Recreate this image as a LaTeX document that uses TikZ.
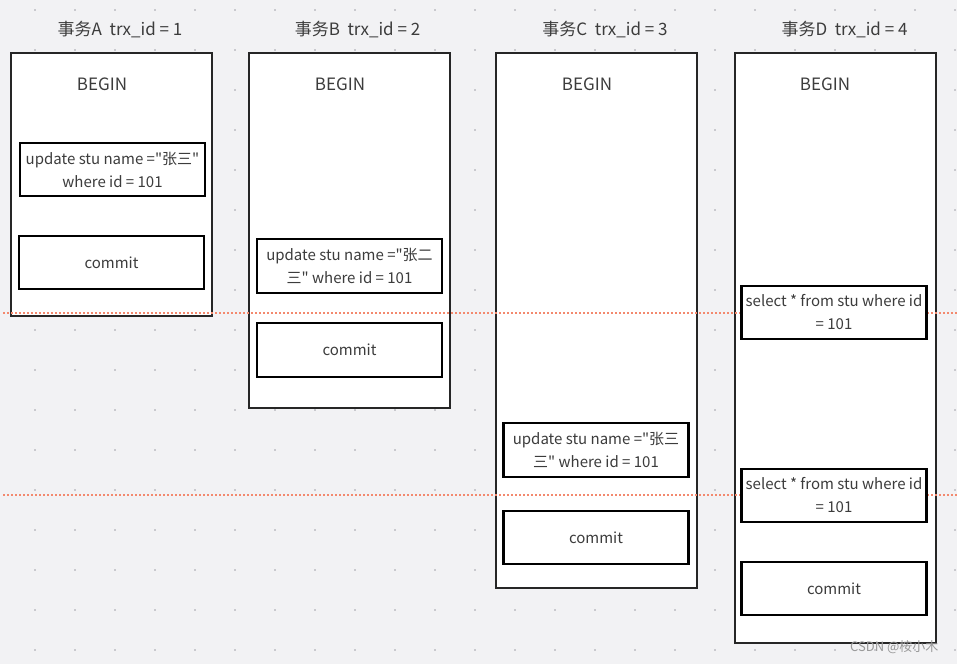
\documentclass[tikz,border=0pt]{standalone}
\usepackage{fontspec}
\setmainfont{Noto Sans CJK SC}[Ligatures=TeXOff]
\begin{document}
\begin{tikzpicture}[x=1pt,y=-1pt,
  outerbox/.style={draw=black!85, line width=1.4pt, fill=white, minimum width=201pt, inner sep=0pt},
  innerbox/.style={draw=black, line width=2.6pt, fill=white, minimum width=185pt, minimum height=53pt, inner sep=0pt, align=center, font=\fontsize{15}{23}\selectfont, text=textgray},
  title/.style={font=\fontsize{17}{20}\selectfont, text=textgray},
  beginlbl/.style={font=\fontsize{17}{20}\selectfont, text=textgray},
  timeline/.style={draw=linered, line width=1.6pt, dash pattern=on 2pt off 2pt},
  griddot/.style={fill=dotgray}
]
\definecolor{bggray}{HTML}{F2F2F4}
\definecolor{dotgray}{HTML}{C9C9CE}
\definecolor{textgray}{HTML}{3C3C3C}
\definecolor{linered}{HTML}{F3896E}
\useasboundingbox (0,0) rectangle (957,664);
\fill[bggray] (0,0) rectangle (957,664);
\foreach \i in {0,...,23} {
  \foreach \j in {0,...,16} {
    \fill[griddot] ({35+40*\i-1.2},{10+40*\j-1.2}) rectangle ++(2.4,2.4);
  }
}
% transaction columns
\node[outerbox, minimum height=263pt] (A) at (111.5,184.5) {};
\node[outerbox, minimum height=355pt] (B) at (349.5,230.5) {};
\node[outerbox, minimum height=535pt] (C) at (596.5,320.5) {};
\node[outerbox, minimum height=590pt] (D) at (835.5,348) {};
% titles
\node[title] (tA) at (120,30) {事务A\hspace{0.45em}trx\_id = 1};
\node[title] (tB) at (357.5,30) {事务B\hspace{0.45em}trx\_id = 2};
\node[title] (tC) at (605,30) {事务C\hspace{0.45em}trx\_id = 3};
\node[title] (tD) at (844.5,30) {事务D\hspace{0.45em}trx\_id = 4};
% BEGIN labels
\node[beginlbl] (bA) at (102,84) {BEGIN};
\node[beginlbl] (bB) at (340,84) {BEGIN};
\node[beginlbl] (bC) at (587,84) {BEGIN};
\node[beginlbl] (bD) at (825,84) {BEGIN};
% time lines
\coordinate (l1s) at (3,313);
\coordinate (l1e) at (957,313);
\coordinate (l2s) at (3,495);
\coordinate (l2e) at (957,495);
\draw[timeline] (l1s) -- (l1e);
\draw[timeline] (l2s) -- (l2e);
% statements
\node[innerbox] (Au) at (112.5,169.5) {update stu name ="张三"\\where id = 101};
\node[innerbox] (Ac) at (111.5,262.5) {commit};
\node[innerbox, minimum height=54pt] (Bu) at (349.5,266) {update stu name ="张二\\三" where id = 101};
\node[innerbox, minimum height=54pt] (Bc) at (349.5,350) {commit};
\node[innerbox, minimum height=54pt] (Cu) at (596,450) {update stu name ="张三\\三" where id = 101};
\node[innerbox] (Cc) at (596,537.5) {commit};
\node[innerbox] (D1) at (834,312.5) {select * from stu where id\\= 101};
\node[innerbox] (D2) at (834,495.5) {select * from stu where id\\= 101};
\node[innerbox] (Dc) at (834,588.5) {commit};
% watermark
\node[font=\fontsize{13}{15}\selectfont, text=black!40, anchor=east] (wm) at (942,647) {CSDN @桉小木};
\end{tikzpicture}
\end{document}
